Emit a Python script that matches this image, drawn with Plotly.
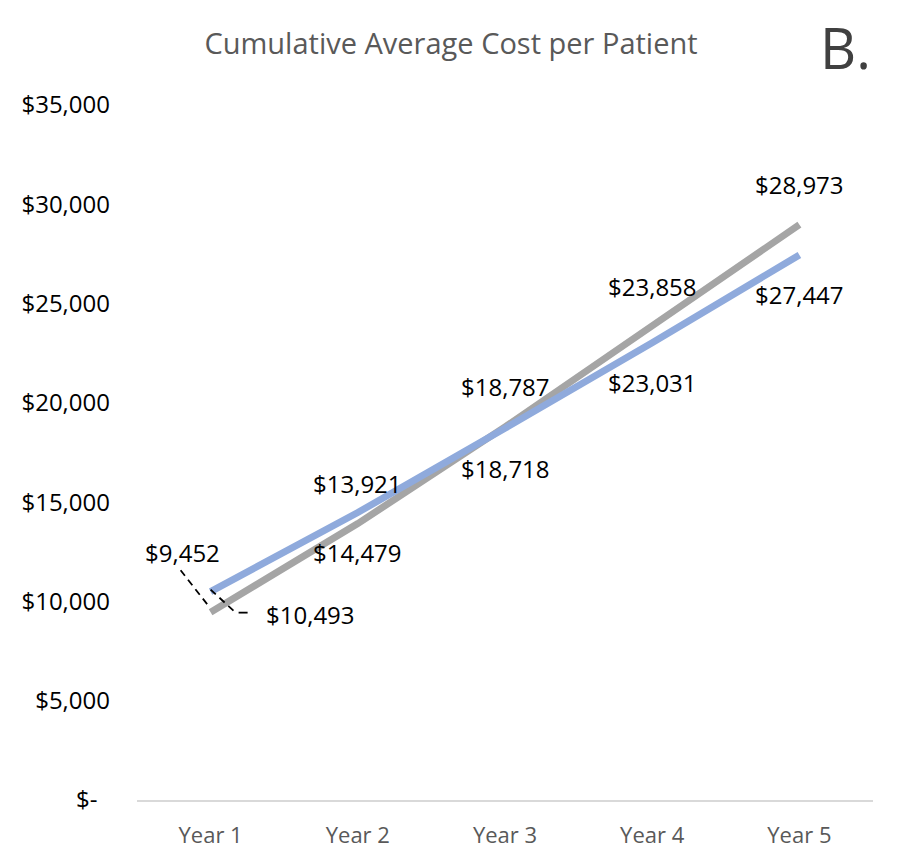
import plotly.graph_objects as go

years = ["Year 1", "Year 2", "Year 3", "Year 4", "Year 5"]
gray_vals = [9452, 13921, 18787, 23858, 28973]
blue_vals = [10493, 14479, 18718, 23031, 27447]
ytick_vals = [0, 5000, 10000, 15000, 20000, 25000, 30000, 35000]
ytick_text = ["$-\u00a0\u00a0", "$5,000", "$10,000", "$15,000", "$20,000", "$25,000", "$30,000", "$35,000"]

FONT = "Open Sans"
GRAY = "#A5A5A5"
BLUE = "#8FAADC"

def money(v):
    return "${:,}".format(v)

fig = go.Figure()
fig.add_trace(go.Scatter(x=years, y=gray_vals, mode="lines",
                         line=dict(color=GRAY, width=7), showlegend=False, hoverinfo="skip"))
fig.add_trace(go.Scatter(x=years, y=blue_vals, mode="lines",
                         line=dict(color=BLUE, width=7), showlegend=False, hoverinfo="skip"))

annotations = []
for i, (yr, v) in enumerate(zip(years, gray_vals)):
    if i == 0:
        xs, ys = -28, 60
    else:
        xs, ys = 0, 40
    annotations.append(dict(x=yr, y=v, xref="x", yref="y", text=money(v), showarrow=False,
                            xshift=xs, yshift=ys, font=dict(family=FONT, size=24, color="black")))
for i, (yr, v) in enumerate(zip(years, blue_vals)):
    if i == 0:
        xs, ys = 100, -23
    else:
        xs, ys = 0, -40
    annotations.append(dict(x=yr, y=v, xref="x", yref="y", text=money(v), showarrow=False,
                            xshift=xs, yshift=ys, font=dict(family=FONT, size=24, color="black")))

annotations.append(dict(x=(845 - 137) / 736, y=1 + (105 - 47) / 695, xref="paper", yref="paper",
                        xanchor="center", yanchor="middle", text="B.", showarrow=False,
                        font=dict(family=FONT, size=56, color="#404040")))

shapes = [
    dict(type="line", xref="x", yref="y", xsizemode="pixel", ysizemode="pixel",
         xanchor=years[0], yanchor=gray_vals[0], x0=-30, y0=42, x1=-1, y1=5,
         line=dict(color="black", width=1.8, dash="7px,5px")),
    dict(type="line", xref="x", yref="y", xsizemode="pixel", ysizemode="pixel",
         xanchor=years[0], yanchor=blue_vals[0], x0=0, y0=2, x1=24, y1=-20,
         line=dict(color="black", width=1.8, dash="7px,5px")),
    dict(type="line", xref="x", yref="y", xsizemode="pixel", ysizemode="pixel",
         xanchor=years[0], yanchor=blue_vals[0], x0=28, y0=-21, x1=37, y1=-21,
         line=dict(color="black", width=1.8)),
]

fig.update_layout(
    width=902, height=868,
    margin=dict(l=137, r=29, t=105, b=68),
    paper_bgcolor="white", plot_bgcolor="white",
    title=dict(text="Cumulative Average Cost per Patient", x=0.5, xanchor="center",
               y=1 - 44 / 868, yanchor="middle",
               font=dict(family=FONT, size=29, color="#595959")),
    xaxis=dict(range=[-0.5, 4.5], showgrid=False, zeroline=False, showline=True,
               linecolor="#D9D9D9", linewidth=2, ticks="", ticklabelstandoff=15,
               tickfont=dict(family=FONT, size=22, color="#595959")),
    yaxis=dict(range=[0, 35000], tickvals=ytick_vals, ticktext=ytick_text,
               showgrid=False, zeroline=False, showline=False, ticks="",
               ticklabelstandoff=26,
               tickfont=dict(family=FONT, size=24, color="black")),
    annotations=annotations,
    shapes=shapes,
)

fig.write_html("out.html")
